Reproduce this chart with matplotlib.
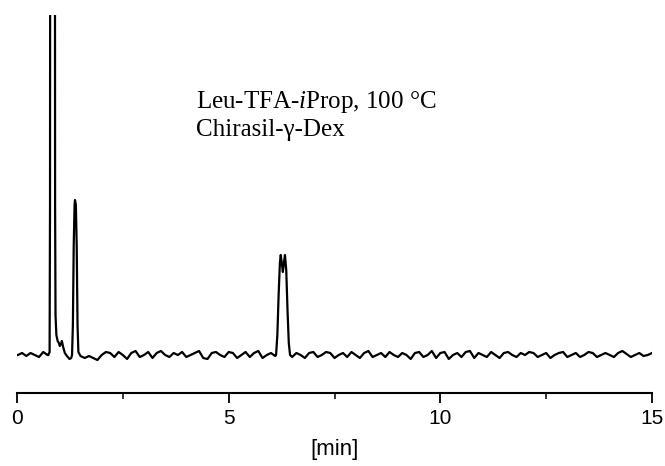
import numpy as np
import matplotlib
matplotlib.use("Agg")
import matplotlib.pyplot as plt

plt.rcParams['font.family'] = ['Liberation Sans', 'DejaVu Sans']
plt.rcParams['mathtext.fontset'] = 'custom'
plt.rcParams['mathtext.rm'] = 'Liberation Serif'
plt.rcParams['mathtext.it'] = 'Liberation Serif:italic'

# detector signal, in arbitrary units above baseline
start_vals = [0, 2, -1, 2, 0, -2, 3, 0]                       # 0.02 .. 0.72 min

peak1_t = [0.74, 0.77, 0.78, 0.81, 0.84, 0.87, 0.90, 0.91, 0.93, 0.96, 0.99,
           1.01, 1.04, 1.06, 1.09, 1.13, 1.18, 1.24, 1.28,
           1.30, 1.32, 1.34, 1.36, 1.37, 1.39, 1.41, 1.43, 1.45]
peak1_v = [0, 3, 150, 2500, 4000, 2500, 150, 40, 20, 14, 12,
           9, 11, 14, 8, 2, -1, -4, -3,
           0, 30, 110, 150, 155, 150, 110, 30, 3]

mid_vals = [-1, -3, -1, -3, -5, 0, 3, 2, -2, 3, 0, -4, 2, 4, -2, 0, 3, -3, 2, 4,
            0, -2, 2, 0, 3, -2, 0, 2, 4, -3, -4, 2, 3, 0, -2, 3, 2, -3, 0, 3,
            -2, 2, 4, -3, 0, 2, -1]                             # 1.50 .. 6.10 min

peak2_t = [6.12, 6.15, 6.18, 6.21, 6.23, 6.255, 6.28, 6.305, 6.33, 6.36, 6.39, 6.42, 6.45]
peak2_v = [0, 20, 60, 92, 100, 92, 83, 92, 100, 85, 45, 12, 0]

end_vals = [-2, 2, 0, -3, 2, 3, -2, 0, 3, 2, -3, 0, 2, -2, 3, 0, -3, 2, 4, -2,
            0, 2, -2, 3, 0, -2, 2, 0, -4, 2, 3, -2, 0, 4, -3, 2, 3, -4, 0, 2,
            -2, 3, 4, -3, 2, 0, -2, 3, 0, -3, 2, 3, 0, -2, 2, 0, 3, 2, -2, 0,
            2, -3, 0, 2, 3, -2, 0, 2, -2, 0, 3, 2, -2, 0, 2, 0, -2, 2, 4, 1,
            -2, 0, 2, -1, 0, 2]                                 # 6.50 .. 15.00 min

t_start = np.round(np.arange(0.02, 0.73, 0.1), 2)
t_mid = np.round(np.arange(1.5, 6.11, 0.1), 2)
t_end = np.round(np.arange(6.5, 15.01, 0.1), 2)

t = np.concatenate([t_start, peak1_t, t_mid, peak2_t, t_end[:len(end_vals)]])
sig = np.concatenate([start_vals, peak1_v, mid_vals[:len(t_mid)], peak2_v, end_vals[:len(t_end)]])

fig = plt.figure(figsize=(6.65, 4.66), dpi=100)
ax = fig.add_axes([17 / 665, 1 - 362 / 466, 635 / 665, 347 / 466])

ax.plot(t, sig, color='black', lw=1.6)
ax.set_xlim(0, 15)
ax.set_ylim(-7, 340)

for s in ['left', 'right', 'top']:
    ax.spines[s].set_visible(False)
ax.spines['bottom'].set_position(('outward', 22))
ax.spines['bottom'].set_linewidth(1.5)
ax.set_yticks([])

ax.set_xticks([0, 5, 10, 15])
ax.set_xticks([2.5, 7.5, 12.5], minor=True)
ax.tick_params(axis='x', which='major', length=7.5, width=1.3, labelsize=15, pad=4)
ax.tick_params(axis='x', which='minor', length=4.5, width=1.1)
ax.set_xlabel('[min]', fontsize=16, labelpad=8)

ax.text(4.23, 247, r'Leu-TFA-$\mathit{i}$Prop, 100 °C', fontsize=18,
        family='Liberation Serif', va='baseline')
ax.text(4.23, 219, 'Chirasil-γ-Dex', fontsize=18,
        family='Liberation Serif', va='baseline')

fig.savefig('out.png', dpi=100)
